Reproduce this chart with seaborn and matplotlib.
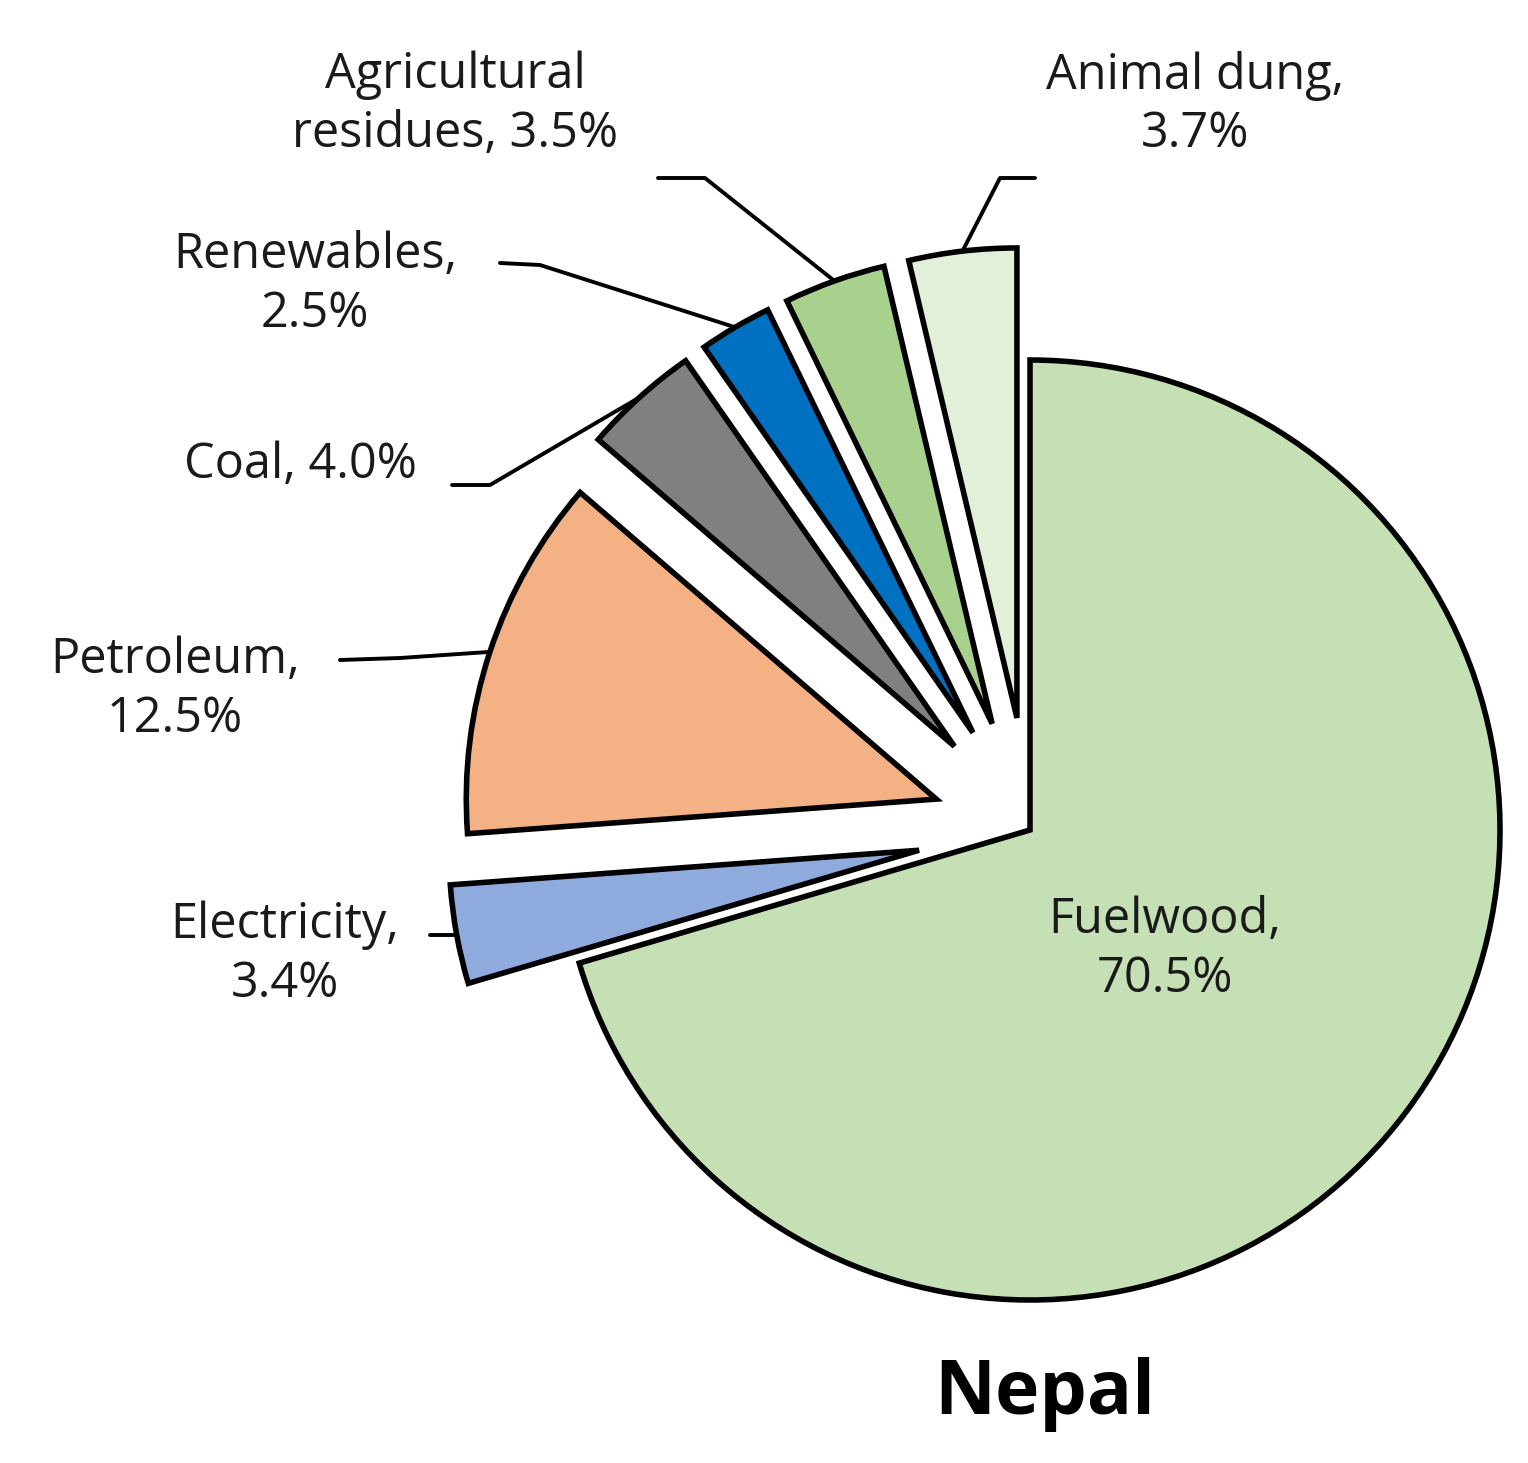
import numpy as np
import matplotlib
matplotlib.use("Agg")
import matplotlib.pyplot as plt
import seaborn as sns

sns.set_theme(style="white")
plt.rcParams['font.family'] = ['Open Sans', 'DejaVu Sans']

categories = ["Fuelwood", "Electricity", "Petroleum", "Coal", "Renewables",
              "Agricultural\nresidues", "Animal dung"]
values = [70.5, 3.4, 12.5, 4.0, 2.5, 3.5, 3.7]
colors = ["#c5e0b4", "#8faadc", "#f4b183", "#808080", "#0070c0", "#a9d18e", "#e2f0d9"]
explode = [0, 0.24, 0.21, 0.24, 0.24, 0.24, 0.24]
label_texts = ["Fuelwood,\n70.5%", "Electricity,\n3.4%", "Petroleum,\n12.5%", "Coal, 4.0%",
               "Renewables,\n2.5%", "Agricultural\nresidues, 3.5%", "Animal dung,\n3.7%"]

W, H, cx, cy, R = 1528, 1463, 1030, 830, 470
def d(px, py):
    return ((px - cx) / R, (cy - py) / R)

fig = plt.figure(figsize=(W / 100, H / 100), dpi=100)
ax = fig.add_axes([0, 0, 1, 1])
wedges, _ = ax.pie(values, colors=colors, explode=explode, startangle=90, counterclock=False,
                   wedgeprops=dict(edgecolor="black", linewidth=4), radius=1)
ax.set_xlim(-cx / R, (W - cx) / R)
ax.set_ylim((cy - H) / R, cy / R)
ax.set_aspect("equal")
ax.axis("off")

label_pos = [(1165, 950), (285, 955), (175, 690), (300, 465), (315, 285), (455, 105), (1195, 105)]
stubs = [None, ((430, 935), (462, 935)), ((340, 660), (400, 658)), ((452, 485), (490, 485)),
         ((500, 263), (540, 265)), ((658, 178), (705, 178)), ((1035, 178), (1000, 178))]

for i, w in enumerate(wedges):
    x, y = d(*label_pos[i])
    ax.text(x, y, label_texts[i], ha="center", va="center", fontsize=35, color="#1a1a1a",
            linespacing=1.25)
    if stubs[i] is not None:
        mid = np.deg2rad((w.theta1 + w.theta2) / 2)
        e = explode[i]
        px_, py_ = (1 + e) * np.cos(mid), (1 + e) * np.sin(mid)
        (a, b) = d(*stubs[i][0])
        (c, dd) = d(*stubs[i][1])
        ax.plot([a, c, px_], [b, dd, py_], color="black", lw=2.8, zorder=0.5)

tx, ty = d(1045, 1395)
ax.text(tx, ty, "Nepal", ha="center", va="center", fontsize=54, fontweight="bold", color="black")

fig.savefig("out.png", dpi=100, facecolor="white")
